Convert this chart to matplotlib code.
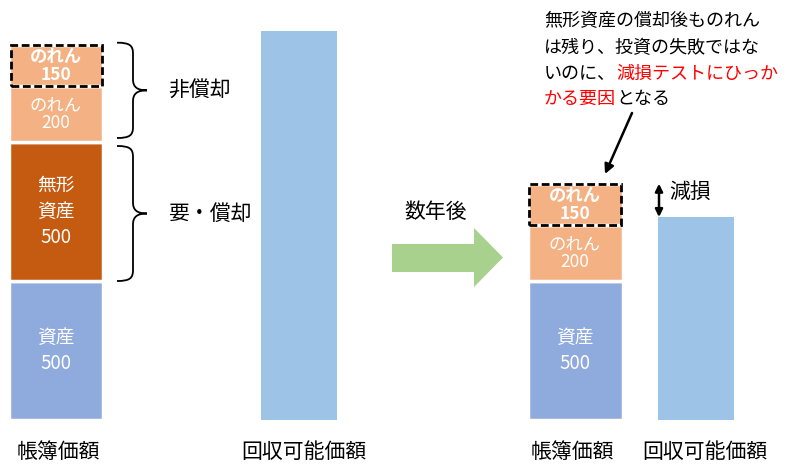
import numpy as np
import matplotlib
matplotlib.use("Agg")
import matplotlib.pyplot as plt
from matplotlib.path import Path
from matplotlib.patches import PathPatch, Polygon, FancyArrowPatch

plt.rcParams['font.family'] = ['Noto Sans CJK JP', 'DejaVu Sans']

# ---- data -------------------------------------------------------------
# book value components before amortisation (bottom -> top)
before_labels = ['資産', '無形\n資産', 'のれん', 'のれん']
before_values = [500, 500, 200, 150]
# book value components a few years later (bottom -> top)
after_labels = ['資産', 'のれん', 'のれん']
after_values = [500, 200, 150]
# recoverable amounts
recoverable_before = 1400
recoverable_after = 730
group_labels = ['帳簿価額', '回収可能価額', '帳簿価額', '回収可能価額']

# ---- colours ------------------------------------------------------------
C_ASSET = '#8FAADC'
C_INTANG = '#C55A11'
C_GW = '#F4B183'
C_RECOV = '#9DC3E6'
C_ARROW = '#A9D18E'

# ---- canvas -------------------------------------------------------------
W, H = 787, 470
BASE = 420          # canvas row of the value-zero baseline
SCALE = 0.278       # canvas pixels per value unit


def yv(p):
    """Canvas row (from the top) -> value units."""
    return (BASE - p) / SCALE


fig = plt.figure(figsize=(W / 100, H / 100), dpi=100)
ax = fig.add_axes([0, 0, 1, 1])
ax.set_xlim(0, W)
ax.set_ylim(yv(H), yv(0))
ax.axis('off')


def stacked(x, width, values, colors, labels):
    values = np.asarray(values)
    bottoms = np.concatenate([[0], np.cumsum(values)[:-1]])
    ax.bar(x, values, width + 3, bottom=bottoms, color=colors,
           edgecolor='white', linewidth=2.5, zorder=2)
    for i, (lab, v, b) in enumerate(zip(labels, values, bottoms)):
        top = i == len(values) - 1
        small = v * SCALE < 60
        ax.text(x, b + v / 2, f'{lab}\n{v}', ha='center', va='center',
                color='white', fontsize=12.5 if small else 13.5,
                linespacing=1.0 if small else 1.3,
                fontweight='bold' if top else 'normal',
                zorder=4)
    # dashed outline around the goodwill that is not amortised
    ax.bar(x, values[-1], width, bottom=bottoms[-1], fill=False,
           edgecolor='black', linestyle=(0, (2.8, 1.3)), linewidth=2,
           zorder=3)
    return bottoms


def brace(x0, y_top, y_bot, xm, xt, lw=1.3):
    ry = 11 / SCALE
    ym = (y_top + y_bot) / 2
    verts = [
        (x0, y_top),
        (x0 + (xm - x0) * 0.8, y_top), (xm, y_top - ry * 0.25), (xm, y_top - ry),
        (xm, ym + ry),
        (xm, ym + ry * 0.3), (xm + (xt - xm) * 0.3, ym), (xt, ym),
        (xm + (xt - xm) * 0.3, ym), (xm, ym - ry * 0.3), (xm, ym - ry),
        (xm, y_bot + ry),
        (xm, y_bot + ry * 0.25), (x0 + (xm - x0) * 0.8, y_bot), (x0, y_bot),
    ]
    codes = [Path.MOVETO,
             Path.CURVE4, Path.CURVE4, Path.CURVE4,
             Path.LINETO,
             Path.CURVE4, Path.CURVE4, Path.CURVE4,
             Path.CURVE4, Path.CURVE4, Path.CURVE4,
             Path.LINETO,
             Path.CURVE4, Path.CURVE4, Path.CURVE4]
    ax.add_patch(PathPatch(Path(verts, codes), fill=False, edgecolor='black',
                           linewidth=lw, zorder=3))
    return ym


# ---- before -------------------------------------------------------------
b_before = stacked(56, 91, before_values, [C_ASSET, C_INTANG, C_GW, C_GW],
                   before_labels)
ax.bar(299, recoverable_before, 76, color=C_RECOV, zorder=2)

gap = 4 / SCALE
total_before = sum(before_values)
ym1 = brace(117, total_before + gap / 2, b_before[2] + gap, 133, 147)
ym2 = brace(117, b_before[2] - gap, b_before[1], 133, 147)
ax.text(168, ym1, '非償却', ha='left', va='center', fontsize=15)
ax.text(168, ym2, '要・償却', ha='left', va='center', fontsize=15)

# ---- transition arrow ---------------------------------------------------
arrow_px = [(392, 244), (474, 244), (474, 228), (503, 257.5),
            (474, 287), (474, 272), (392, 272)]
ax.add_patch(Polygon([(x, yv(y)) for x, y in arrow_px], closed=True,
                     facecolor=C_ARROW, edgecolor='none', zorder=2))
ax.text(436, yv(212), '数年後', ha='center', va='center', fontsize=15)

# ---- after --------------------------------------------------------------
stacked(575, 92, after_values, [C_ASSET, C_GW, C_GW], after_labels)
ax.bar(696, recoverable_after, 76, color=C_RECOV, zorder=2)

total_after = sum(after_values)
ax.add_patch(FancyArrowPatch((659, total_after), (659, recoverable_after),
                             arrowstyle='<|-|>', mutation_scale=11,
                             linewidth=1.8, color='black',
                             shrinkA=0, shrinkB=0, zorder=4))
ax.text(669, (total_after + recoverable_after) / 2 + 8 / SCALE, '減損',
        ha='left', va='center', fontsize=15)

# ---- explanation --------------------------------------------------------
lines = [
    [('無形資産の償却後ものれん', 'black')],
    [('は残り、投資の失敗ではな', 'black')],
    [('いのに、', 'black'), ('減損テストにひっか', '#FF0000')],
    [('かる要因', '#FF0000'), ('となる', 'black')],
]
rows = [21, 48, 74, 99]
for row, pieces in zip(rows, lines):
    first, col = pieces[0]
    t = ax.text(544, yv(row), first, ha='left', va='center',
                fontsize=13, color=col)
    for txt, col in pieces[1:]:
        t = ax.annotate(txt, xy=(1, 0), xycoords=t, ha='left', va='bottom',
                        fontsize=13, color=col)

ax.add_patch(FancyArrowPatch((632, yv(113)), (605, yv(174)),
                             arrowstyle='-|>', mutation_scale=14,
                             linewidth=1.8, color='black',
                             shrinkA=0, shrinkB=0, zorder=4))

# ---- group captions -----------------------------------------------------
for x, lab in zip([58, 304, 572, 705], group_labels):
    ax.text(x, yv(452), lab, ha='center', va='center', fontsize=15)

fig.savefig('out.png', dpi=100)
